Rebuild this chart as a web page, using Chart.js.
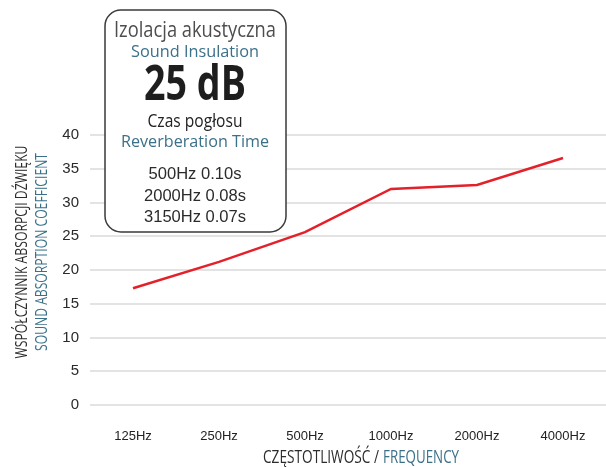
<!DOCTYPE html>
<html>
<head>
<meta charset="utf-8">
<script src="https://cdn.jsdelivr.net/npm/chart.js@4/dist/chart.umd.min.js"></script>
<style>
	html, body { margin: 0; padding: 0; background: #fff; }
	canvas { display: block; }
</style>
</head>
<body>
<canvas id="wykres" width="606" height="467"></canvas>
<script>
// dane
const czestotliwosci = ['125Hz', '250Hz', '500Hz', '1000Hz', '2000Hz', '4000Hz'];
const wspolczynnik = [17.3, 21.2, 25.6, 32.0, 32.6, 36.6];
const osYMin = 0;
const osYMax = 40;
const osYKrok = 5;

// tabliczka z izolacja i czasem poglosu
const czasPoglosuHz = ['500Hz', '2000Hz', '3150Hz'];
const czasPoglosuS = ['0.10s', '0.08s', '0.07s'];
const izolacjaDb = 25;

const NIEBIESKI = '#3b7089';
const CIEMNY = '#2b2b2b';
const CZERWONY = '#e3212b';

// rysuje tekst "sciesniony" do zadanej szerokosci (brak kroju condensed)
function tekst(ctx, s, cx, y, font, kolor, szer) {
	ctx.save();
	ctx.font = font;
	const w = ctx.measureText(s).width;
	ctx.translate(cx, y);
	if (szer) ctx.scale(szer / w, 1);
	ctx.fillStyle = kolor;
	ctx.textAlign = 'center';
	ctx.textBaseline = 'alphabetic';
	ctx.fillText(s, 0, 0);
	ctx.restore();
}

function zaokraglonyProstokat(ctx, x, y, w, h, r) {
	ctx.beginPath();
	ctx.moveTo(x + r, y);
	ctx.lineTo(x + w - r, y);
	ctx.arcTo(x + w, y, x + w, y + r, r);
	ctx.lineTo(x + w, y + h - r);
	ctx.arcTo(x + w, y + h, x + w - r, y + h, r);
	ctx.lineTo(x + r, y + h);
	ctx.arcTo(x, y + h, x, y + h - r, r);
	ctx.lineTo(x, y + r);
	ctx.arcTo(x, y, x + r, y, r);
	ctx.closePath();
}

const tytulyIRamka = {
	id: 'tytulyIRamka',
	afterDraw(chart) {
		const ctx = chart.ctx;
		const F = '"Open Sans", sans-serif';

		// tytul osi Y (dwie linie, obrocone)
		ctx.save();
		ctx.translate(0, 252);
		ctx.rotate(-Math.PI / 2);
		tekst(ctx, 'WSPÓŁCZYNNIK ABSORPCJI DŹWIĘKU', 0, 27, '16px ' + F, CIEMNY, 213);
		tekst(ctx, 'SOUND ABSORPTION COEFFICIENT', 0, 47, '16px ' + F, NIEBIESKI, 198);
		ctx.restore();

		// tytul osi X
		tekst(ctx, 'CZĘSTOTLIWOŚĆ /', 321, 463, '18px ' + F, CIEMNY, 116);
		tekst(ctx, 'FREQUENCY', 421, 463, '18px ' + F, NIEBIESKI, 76);

		// ramka
		ctx.save();
		zaokraglonyProstokat(ctx, 105, 10, 181, 222, 16);
		ctx.fillStyle = '#fff';
		ctx.fill();
		ctx.lineWidth = 1.5;
		ctx.strokeStyle = '#3a3a3a';
		ctx.stroke();
		ctx.restore();

		const cx = 195;
		tekst(ctx, 'Izolacja akustyczna', cx, 37, '21px ' + F, '#4d4d4d', 162);
		tekst(ctx, 'Sound Insulation', cx, 57, '17px ' + F, NIEBIESKI, 128);
		tekst(ctx, izolacjaDb + ' dB', cx, 100, 'bold 49px ' + F, '#1e1e1e', 102);
		tekst(ctx, 'Czas pogłosu', cx, 127, '18px ' + F, '#222', 95);
		tekst(ctx, 'Reverberation Time', cx, 147, '17px ' + F, NIEBIESKI, 148);
		const linie = [179, 201, 222];
		const szer = [93, 102, 102];
		czasPoglosuHz.forEach((hz, i) => {
			tekst(ctx, hz + ' ' + czasPoglosuS[i], cx, linie[i], '16px "Liberation Sans", Arial, sans-serif', CIEMNY, szer[i]);
		});
	}
};

function montaWykres() {
	const ctx = document.getElementById('wykres').getContext('2d');
	return new Chart(ctx, {
		type: 'line',
		data: {
			labels: czestotliwosci,
			datasets: [
				{
					data: wspolczynnik,
					borderColor: CZERWONY,
					borderWidth: 2.5,
					pointRadius: 0,
					tension: 0,
					fill: false
				}
			]
		},
		options: {
			responsive: false,
			animation: false,
			layout: { padding: { top: 135, right: 0, left: 0, bottom: 0 } },
			scales: {
				x: {
					offset: true,
					grid: { display: false },
					border: { display: false },
					ticks: {
						color: '#222',
						padding: 16,
						font: { family: '"Liberation Sans", Arial, sans-serif', size: 13 },
						maxRotation: 0
					},
					afterFit(s) { s.height = 62; }
				},
				y: {
					min: osYMin,
					max: osYMax,
					border: { display: false },
					grid: { color: '#e3e3e3', lineWidth: 2, drawTicks: false },
					ticks: {
						stepSize: osYKrok,
						color: '#2a2a2a',
						padding: 11,
						font: { family: '"Liberation Sans", Arial, sans-serif', size: 15 }
					},
					afterFit(s) { s.width = 90; }
				}
			},
			plugins: {
				legend: { display: false },
				tooltip: { enabled: false }
			}
		},
		plugins: [tytulyIRamka]
	});
}

window.onload = () => {
	montaWykres();
}
</script>
</body>
</html>
